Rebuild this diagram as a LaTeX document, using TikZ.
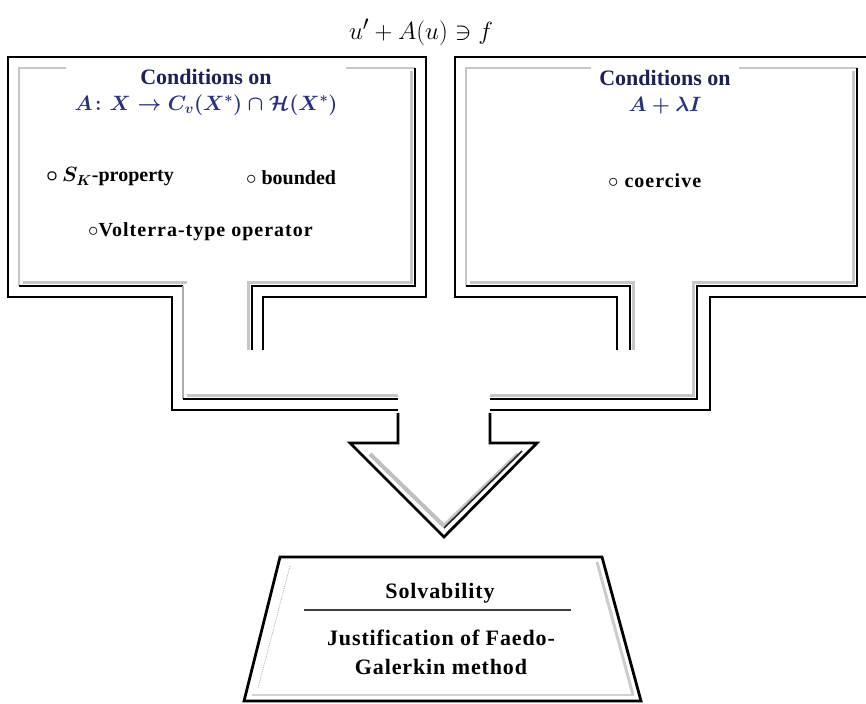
\documentclass[tikz,border=0pt]{standalone}
\usepackage{amsmath,amssymb}
\usepackage{fontspec}
\setmainfont{Liberation Serif}
\definecolor{navy}{RGB}{28,34,88}
\definecolor{mblue}{RGB}{40,48,130}
\begin{document}
\begin{tikzpicture}[x=1pt,y=-1pt,
  outerl/.style={line width=2.8pt, black, line join=miter},
  darkin/.style={line width=1.8pt, black},
  shadel/.style={line width=3.2pt, gray!45},
  lightin/.style={line width=1.6pt, gray!45},
  hdr/.style={fill=white, align=center, inner xsep=8.5pt, inner ysep=4pt, text=navy,
              font=\fontsize{22}{25}\selectfont\bfseries},
  itemtxt/.style={anchor=west, inner sep=0pt, font=\fontsize{20}{24}\selectfont\bfseries},
  bottxt/.style={align=center, inner sep=0pt, font=\fontsize{22}{29}\selectfont\bfseries\addfontfeature{LetterSpace=4}}]
\useasboundingbox (0,0) rectangle (866,703);

% ---------- left callout ----------
\draw[shadel] (411.5,71) -- (411.5,282.5) -- (248.5,282.5) -- (248.5,350);
\draw[shadel] (22.5,282.5) -- (186.5,282.5);
\draw[shadel] (186.5,395.5) -- (398,395.5);
\draw[lightin] (19,286) -- (19,68) -- (415,68);
\draw[darkin] (415,68) -- (415,286) -- (252,286) -- (252,350);
\draw[darkin] (19,286) -- (183,286);
\draw[line width=1.6pt, gray!65] (183,286) -- (183,399);
\draw[darkin] (183,399) -- (398,399);
\draw[outerl] (263,350) -- (263,297) -- (426,297) -- (426,57) -- (8,57) -- (8,297) -- (172,297) -- (172,410) -- (398,410);

% ---------- right callout ----------
\draw[shadel] (853.5,71) -- (853.5,282.5) -- (693.5,282.5) -- (693.5,395.5) -- (490,395.5);
\draw[shadel] (469.5,282.5) -- (633.5,282.5) -- (633.5,350);
\draw[lightin] (466,286) -- (466,68) -- (857,68);
\draw[darkin] (857,68) -- (857,286) -- (697,286) -- (697,399) -- (490,399);
\draw[darkin] (466,286) -- (630,286) -- (630,350);
\draw[outerl] (617,350) -- (617,297) -- (455,297) -- (455,57) -- (872,57) -- (872,297) -- (710,297) -- (710,410) -- (490,410);

% ---------- arrow ----------
\draw[line width=4pt, gray!50] (370,454) -- (444,526);
\draw[line width=4pt, gray!45] (518,454) -- (444,526);
\draw[line width=1.6pt, black!85] (444,528) -- (522,451);
\draw[outerl] (398,413) -- (398,443) -- (350,443) -- (444,537) -- (537,443) -- (490,443) -- (490,413);

% ---------- result trapezoid ----------
\draw[line width=3pt, gray!40] (597,562) -- (633,695);
\draw[line width=2pt, gray!35] (252,695) -- (634,695);
\draw[gray!55, densely dotted, line width=0.9pt] (290,566) -- (258,688);
\draw[outerl] (280,557) -- (602,557) -- (641,701) -- (244,701) -- cycle;

% ---------- texts ----------
\node (title) at (421,32) {\fontsize{28}{32}\selectfont $u' + A(u) \ni f$};

\node[hdr] (lhdr) at (206,92) {Conditions on\\[1pt]
  {\color{mblue}\fontsize{19.5}{24}\selectfont\boldmath$A\colon X \to C_v(X^{*}) \cap \mathcal{H}(X^{*})$}};
\node[hdr] (rhdr) at (665,92) {Conditions on\\[1pt]
  {\color{mblue}\fontsize{21}{24}\selectfont\boldmath$A + \lambda I$}};

\node[itemtxt] (sk) at (46,177) {{\boldmath$\circ\,S_{K}$}-property};
\node[itemtxt] (bnd) at (246,178) {$\circ$ bounded};
\node[itemtxt, font=\fontsize{20}{24}\selectfont\bfseries\addfontfeature{LetterSpace=5}] (volt) at (88,232) {$\circ$Volterra-type operator};
\node[itemtxt, font=\fontsize{20}{24}\selectfont\bfseries\addfontfeature{LetterSpace=5}] (coer) at (608,181) {$\circ$ coercive};

\node[bottxt] (solv) at (440,593) {Solvability};
\draw[line width=1.8pt, black!75] (304,610) -- (571,610);
\node[bottxt] (just) at (441,652) {Justification of Faedo-\\Galerkin method};
\end{tikzpicture}
\end{document}
